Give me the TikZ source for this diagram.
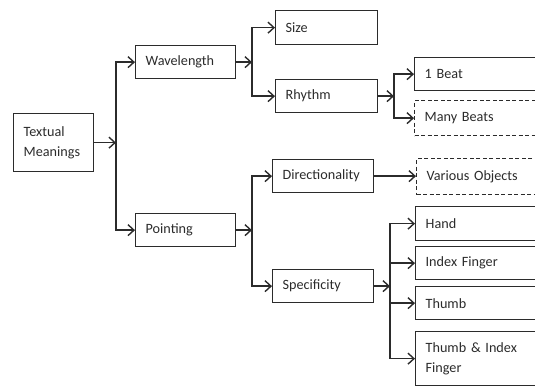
\documentclass[tikz,border=0pt]{standalone}
\usepackage{fontspec}
\setmainfont{Carlito}
\usetikzlibrary{arrows.meta}
\definecolor{ink}{HTML}{2B2B2B}
\begin{document}
\begin{tikzpicture}[x=1pt,y=-1pt,
  box/.style={draw=ink, line width=1.3pt, rectangle, anchor=north west, inner xsep=10pt, inner ysep=0pt, align=left, font=\fontsize{14.2}{20}\selectfont, text=ink},
  dbox/.style={box, dash pattern=on 4pt off 2.5pt},
  arr/.style={draw=ink, line width=1.4pt, -{Straight Barb[length=6pt,width=11pt,line width=1.4pt]}},
  ln/.style={draw=ink, line width=1.4pt, line cap=rect}]
\useasboundingbox (0,0) rectangle (535,386);
\clip (0,0) rectangle (535,386);
% boxes
\node[box, minimum width=80pt, minimum height=58pt, text width=60pt] (tm) at (13,113) {Textual\\Meanings};
\node[box, minimum width=100pt, minimum height=33pt, text width=80pt] (wl) at (135,45) {Wavelength};
\node[box, minimum width=100pt, minimum height=33pt, text width=80pt] (po) at (135,213) {Pointing};
\node[box, minimum width=102pt, minimum height=34pt, text width=82pt] (sz) at (275,10) {Size};
\node[box, minimum width=102pt, minimum height=33pt, text width=82pt] (rh) at (275,79) {Rhythm};
\node[box, minimum width=101pt, minimum height=33pt, text width=81pt] (di) at (272,159) {Directionality};
\node[box, minimum width=101pt, minimum height=33pt, text width=81pt] (sp) at (272,269) {Specificity};
\node[box, minimum width=160pt, minimum height=33pt, text width=140pt] (b1) at (414,57) {1 Beat};
\node[dbox, minimum width=160pt, minimum height=35pt, text width=140pt] (mb) at (414,100) {Many Beats};
\node[dbox, minimum width=160pt, minimum height=36pt, text width=140pt] (vo) at (416,158) {Various Objects};
\node[box, minimum width=160pt, minimum height=34pt, text width=140pt] (ha) at (415,206) {Hand};
\node[box, minimum width=160pt, minimum height=33pt, text width=140pt] (ix) at (415,246) {Index Finger};
\node[box, minimum width=160pt, minimum height=33pt, text width=140pt] (th) at (415,286) {Thumb};
\node[box, minimum width=160pt, minimum height=54pt, text width=140pt] (ti) at (415,331) {Thumb \& Index\\Finger};
% junction columns
\coordinate (t1) at (116,0);
\coordinate (t2) at (252,0);
\coordinate (t3) at (394,0);
\coordinate (t4) at (390,0);
% Textual Meanings
\draw[arr] (tm.east) -- (tm.east -| t1);
\draw[ln] (t1 |- wl.west) -- (t1 |- po.west);
\draw[arr] (t1 |- wl.west) -- (wl.west);
\draw[arr] (t1 |- po.west) -- (po.west);
% Wavelength
\draw[arr] (wl.east) -- (wl.east -| t2);
\draw[ln] (t2 |- sz.west) -- (t2 |- rh.west);
\draw[arr] (t2 |- sz.west) -- (sz.west);
\draw[arr] (t2 |- rh.west) -- (rh.west);
% Rhythm
\draw[arr] (rh.east) -- (rh.east -| t3);
\draw[ln] (t3 |- b1.west) -- (t3 |- mb.west);
\draw[arr] (t3 |- b1.west) -- (b1.west);
\draw[arr] (t3 |- mb.west) -- (mb.west);
% Pointing
\draw[arr] (po.east) -- (po.east -| t2);
\draw[ln] (t2 |- di.west) -- (t2 |- sp.west);
\draw[arr] (t2 |- di.west) -- (di.west);
\draw[arr] (t2 |- sp.west) -- (sp.west);
% Directionality
\draw[arr] (di.east) -- (di.east -| vo.west);
% Specificity
\draw[arr] (sp.east) -- (sp.east -| t4);
\draw[ln] (t4 |- ha.west) -- (t4 |- ti.west);
\draw[arr] (t4 |- ha.west) -- (ha.west);
\draw[arr] (t4 |- ix.west) -- (ix.west);
\draw[arr] (t4 |- th.west) -- (th.west);
\draw[arr] (t4 |- ti.west) -- (ti.west);
\end{tikzpicture}
\end{document}
